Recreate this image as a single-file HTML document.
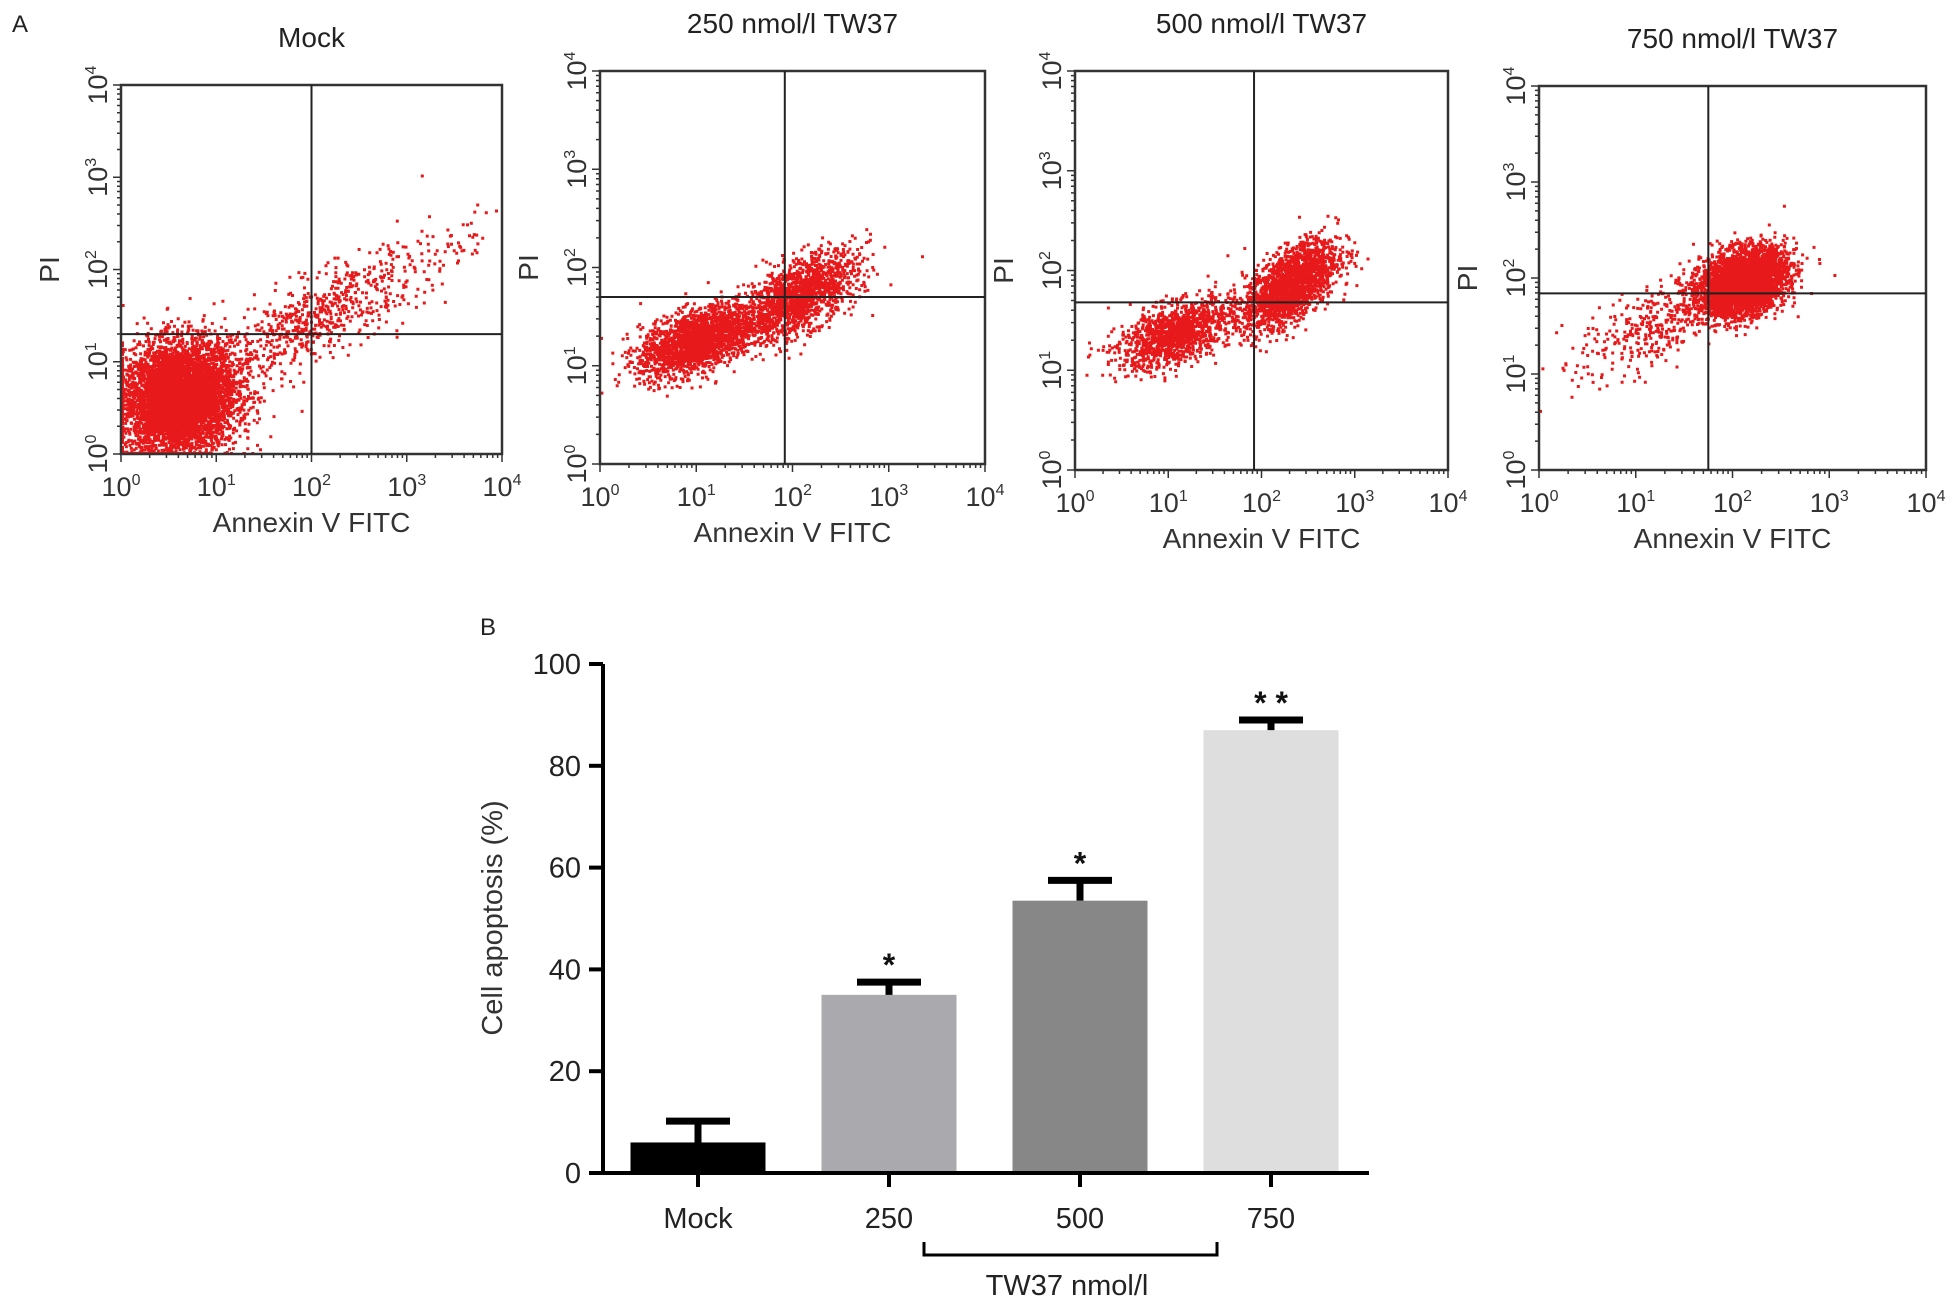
<!DOCTYPE html>
<html><head><meta charset="utf-8"><style>
html,body{margin:0;padding:0;background:#fff;width:1957px;height:1311px;overflow:hidden}
svg{display:block;font-family:"Liberation Sans",Arial,sans-serif}
</style></head><body>
<svg id="fig" width="1957" height="1311" viewBox="0 0 1957 1311">
<text x="12" y="32" font-size="24" fill="#222">A</text>
<text x="480" y="635" font-size="24" fill="#222">B</text>
<g id="flow"></g>
<g id="bars"></g>
</svg>
<script>
// ---- Flow cytometry data (clusters in log10 decades) ----
const panelTitles = ["Mock","250 nmol/l  TW37","500 nmol/l  TW37","750 nmol/l  TW37"];
const decadeLabels = ["0","1","2","3","4"];
const gateX = [2.0, 1.92, 1.92, 1.75];
const gateY = [1.3, 1.7, 1.68, 1.84];
// clusters: [cx, cy, sx, sy, corr, n] per panel
const clusters0 = [[0.6,0.6,0.3,0.3,0.1,5500],[2.0,1.45,0.6,0.38,0.8,700],[3.5,2.2,0.25,0.25,0.8,40]];
const clusters1 = [[1.0,1.25,0.3,0.18,0.5,2000],[2.05,1.7,0.3,0.22,0.6,1600]];
const clusters2 = [[1.05,1.35,0.3,0.17,0.5,1300],[2.3,1.85,0.25,0.22,0.6,2000]];
const clusters3 = [[2.1,1.95,0.22,0.17,0.3,3800],[1.2,1.5,0.4,0.28,0.6,400]];
const allClusters = [clusters0,clusters1,clusters2,clusters3];
const frames = [[121,85,502,454],[600,71,985,464],[1075,71,1448,470],[1539,86,1926,470]];

const NS="http://www.w3.org/2000/svg";
function mk(tag,attrs,parent){const e=document.createElementNS(NS,tag);for(const k in attrs)e.setAttribute(k,attrs[k]);parent.appendChild(e);return e;}
let seed=12345;function rnd(){seed=(seed*1103515245+12345)%2147483648;return seed/2147483648;}
function gauss(){let u=rnd()||1e-9,v=rnd();return Math.sqrt(-2*Math.log(u))*Math.cos(2*Math.PI*v);}

const flow=document.getElementById('flow');
frames.forEach((f,i)=>{
  const [x0,y0,x1,y1]=f;
  const g=mk('g',{},flow);
  
  
  const sx=d=>x0+(x1-x0)*d/4, sy=d=>y1-(y1-y0)*d/4;
  const t=mk('text',{x:(x0+x1)/2,y:y0-38,'font-size':28,'text-anchor':'middle',fill:'#222'},g);
  t.textContent=panelTitles[i];
  
  
  let d='';
  allClusters[i].forEach(c=>{
    const [cx,cy,ssx,ssy,r,n]=c;
    for(let k=0;k<n;k++){
      const a=gauss(),b=gauss();
      let px=cx+ssx*a, py=cy+ssy*(r*a+Math.sqrt(1-r*r)*b);
      if(px<0)px=0; if(py<0)py=0; if(px>3.98||py>4)continue;
      d+='M'+sx(px).toFixed(1)+' '+(sy(py)-2).toFixed(1)+'h3v3h-3z';
    }
  });
  const p=mk('path',{d:d,fill:'#e8191a'},g);
  
  
  const box=mk('rect',{x:x0,y:y0,width:x1-x0,height:y1-y0,fill:'none',stroke:'#333','stroke-width':2.5},g);
  
  
  const gv=mk('line',{x1:sx(gateX[i]),x2:sx(gateX[i]),y1:y0,y2:y1,stroke:'#222','stroke-width':2},g);
  
  
  const gh=mk('line',{x1:x0,x2:x1,y1:sy(gateY[i]),y2:sy(gateY[i]),stroke:'#222','stroke-width':2},g);
  
  
  let tk='';
  for(let dec=0;dec<4;dec++)for(let m=1;m<10;m++){
    const v=dec+Math.log10(m);const L=m==1?8:4;
    tk+='M'+sx(v)+' '+y1+'v'+L+'M'+x0+' '+sy(v)+'h-'+L;
  }
  tk+='M'+x1+' '+y1+'v8M'+x0+' '+y0+'h-8';
  mk('path',{d:tk,stroke:'#333','stroke-width':1.5,fill:'none'},g);
  decadeLabels.forEach((lab,j)=>{
    const xt=mk('text',{x:sx(j),y:y1+42,'font-size':27,'text-anchor':'middle',fill:'#333'},g);
    xt.innerHTML='10<tspan dy="-11" font-size="16">'+lab+'</tspan>';
    
    
    const yt=mk('text',{x:0,y:0,'font-size':27,'text-anchor':'middle',fill:'#333',transform:'translate('+(x0-14)+','+sy(j)+') rotate(-90)'},g);
    yt.innerHTML='10<tspan dy="-11" font-size="16">'+lab+'</tspan>';
    
    
  });
  const xl=mk('text',{x:(x0+x1)/2,y:y1+78,'font-size':28,'text-anchor':'middle',fill:'#333'},g);
  xl.textContent='Annexin V FITC';
  
  
  const yl=mk('text',{x:0,y:0,'font-size':28,'text-anchor':'middle',fill:'#333',transform:'translate('+(x0-62)+','+((y0+y1)/2)+') rotate(-90)'},g);
  yl.textContent='PI';
  
  
});

// ---- Bar chart data ----
const categories=["Mock","250","500","750"];
const values=[6,35,53.5,87];
const errors=[4.2,2.5,4,2];
const stars=["","*","*","* *"];
const yTicks=[0,20,40,60,80,100];
const barColors=["#000000","#a9a9ae","#878787","#dedede"];

const bg=document.getElementById('bars');
const ox=603, oy=1173, yTop=664, xr=1369;
const yS=v=>oy-(oy-yTop)*v/100;
const xS=i=>698+i*191;
const bw=135;
values.forEach((v,i)=>{
  const r=mk('rect',{x:xS(i)-bw/2,y:yS(v),width:bw,height:oy-yS(v),fill:barColors[i]},bg);
  
  
  const e=mk('path',{d:'M'+xS(i)+' '+yS(v)+'V'+yS(v+errors[i])+'M'+(xS(i)-32)+' '+yS(v+errors[i])+'H'+(xS(i)+32),stroke:'#000','stroke-width':7,fill:'none'},bg);
  
  
  if(stars[i]){
    const s=mk('text',{x:xS(i),y:yS(v+errors[i])-6,'font-size':32,'font-weight':'bold','text-anchor':'middle',fill:'#111'},bg);
    s.textContent=stars[i];
    
    
  }
  const c=mk('text',{x:xS(i),y:oy+55,'font-size':29,'text-anchor':'middle',fill:'#222'},bg);
  c.textContent=categories[i];
  
  
  mk('line',{x1:xS(i),x2:xS(i),y1:oy,y2:oy+14,stroke:'#000','stroke-width':4},bg);
});
const ax=mk('path',{d:'M'+ox+' '+yTop+'V'+oy+'H'+xr,stroke:'#000','stroke-width':4,fill:'none'},bg);


yTicks.forEach(t=>{
  mk('line',{x1:ox-14,x2:ox,y1:yS(t),y2:yS(t),stroke:'#000','stroke-width':4},bg);
  const tl=mk('text',{x:ox-22,y:yS(t)+10,'font-size':29,'text-anchor':'end',fill:'#222'},bg);
  tl.textContent=t;
  
  
});
const yt=mk('text',{x:0,y:0,'font-size':29,'text-anchor':'middle',fill:'#333',transform:'translate(502,918) rotate(-90)'},bg);
yt.textContent='Cell apoptosis (%)';


const br=mk('path',{d:'M924 1242V1255H1217V1242',stroke:'#000','stroke-width':3,fill:'none'},bg);


const gt=mk('text',{x:1067,y:1295,'font-size':29,'text-anchor':'middle',fill:'#222'},bg);
gt.textContent='TW37 nmol/l';


</script>
</body></html>
